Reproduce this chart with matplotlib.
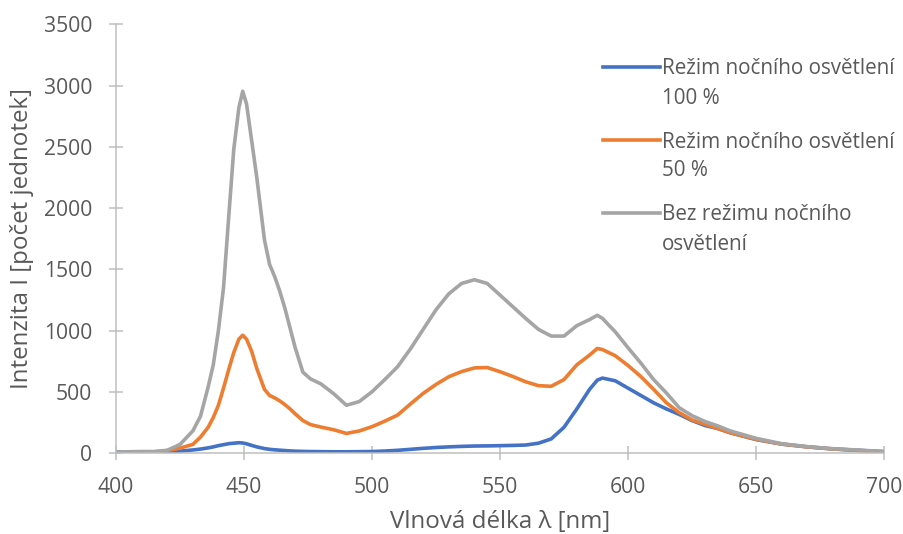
import matplotlib.pyplot as plt
from matplotlib.lines import Line2D

plt.rcParams['font.family'] = ['Open Sans', 'DejaVu Sans']

# vlnová délka [nm]
wl = [400, 405, 410, 415, 420, 425, 430, 433, 436, 438, 440, 442, 444, 446, 448, 449.5,
      451, 453, 455, 458, 460, 462, 464, 466, 468, 470, 473, 476, 480, 485, 490, 495,
      500, 505, 510, 515, 520, 525, 530, 535, 540, 545, 550, 555, 560, 565,
      570, 575, 580, 585, 588, 590, 595, 600, 605, 610, 615, 620, 625, 630,
      635, 640, 650, 660, 670, 680, 690, 700]

# Režim nočního osvětlení 100 %
blue = [8, 8, 8, 8, 10, 15, 25, 32, 42, 50, 60, 68, 76, 80, 84, 82,
        75, 62, 50, 36, 30, 26, 23, 20, 17, 15, 13, 12, 11, 10, 10, 11,
        12, 16, 22, 30, 38, 45, 50, 54, 57, 58, 60, 62, 65, 80,
        115, 210, 360, 520, 595, 612, 590, 530, 470, 410, 360, 315, 265, 225,
        200, 165, 110, 73, 50, 33, 22, 10]

# Režim nočního osvětlení 50 %
orange = [0, 2, 5, 10, 20, 40, 70, 130, 210, 290, 390, 530, 680, 820, 930, 962,
          930, 830, 690, 520, 470, 450, 425, 395, 360, 320, 265, 232, 212, 190, 160, 180,
          215, 260, 310, 400, 487, 560, 623, 665, 695, 698, 664, 625, 582, 550,
          545, 600, 720, 800, 854, 845, 795, 715, 625, 520, 410, 330, 270, 235,
          200, 165, 112, 73, 50, 33, 20, 10]

# Bez režimu nočního osvětlení
gray = [8, 10, 12, 12, 22, 70, 180, 300, 540, 720, 1000, 1350, 1920, 2480, 2820, 2955,
        2850, 2550, 2250, 1740, 1540, 1440, 1320, 1180, 1020, 860, 660, 605, 565, 485, 390, 420,
        500, 600, 705, 850, 1010, 1170, 1300, 1385, 1415, 1385, 1290, 1195, 1100, 1010,
        955, 955, 1040, 1090, 1125, 1100, 990, 860, 735, 600, 490, 370, 305, 258,
        222, 180, 120, 76, 52, 35, 24, 12]

labels = ['Režim nočního osvětlení\n100 %',
          'Režim nočního osvětlení\n50 %',
          'Bez režimu nočního\nosvětlení']
colors = ['#4472C4', '#ED7D31', '#A5A5A5']
text_c = '#595959'
axis_c = '#BFBFBF'

fig = plt.figure(figsize=(9.04, 5.34), dpi=100)
W, H = 904, 534
ax = fig.add_axes([116 / W, (H - 453) / H, (884 - 116) / W, (453 - 24.5) / H])

for y, c in zip([blue, orange, gray], colors):
    ax.plot(wl, y, color=c, lw=2.6, solid_joinstyle='round')

ax.set_xlim(400, 700)
ax.set_ylim(0, 3500)
ax.set_xticks(range(400, 701, 50))
ax.set_yticks(range(0, 3501, 500))

for s in ['top', 'right']:
    ax.spines[s].set_visible(False)
for s in ['left', 'bottom']:
    ax.spines[s].set_color(axis_c)
    ax.spines[s].set_linewidth(1.1)
ax.tick_params(direction='inout', length=10, width=1.1, color=axis_c,
               labelcolor=text_c, labelsize=15.2, pad=12)

ax.set_xlabel('Vlnová délka λ [nm]', fontsize=17.4, color=text_c)
ax.set_ylabel('Intenzita I [počet jednotek]', fontsize=17.4, color=text_c)
ax.xaxis.set_label_coords(0.5, (453 - 522) / (453 - 24.5), transform=ax.transAxes)
ax.yaxis.set_label_coords((22 - 116) / (884 - 116), 0.5, transform=ax.transAxes)
ax.xaxis.label.set_va('center')
ax.yaxis.label.set_va('center')

# legenda
leg_y = [67, 140, 213]
for lab, c, yy in zip(labels, colors, leg_y):
    fig.add_artist(Line2D([603 / W, 660 / W], [1 - yy / H, 1 - yy / H],
                          color=c, lw=2.6, transform=fig.transFigure))
    fig.text(662 / W, 1 - (yy - 8.5) / H, lab, fontsize=14.9, color=text_c,
             va='top', ha='left', linespacing=1.5)

plt.savefig('out.png', dpi=100)
